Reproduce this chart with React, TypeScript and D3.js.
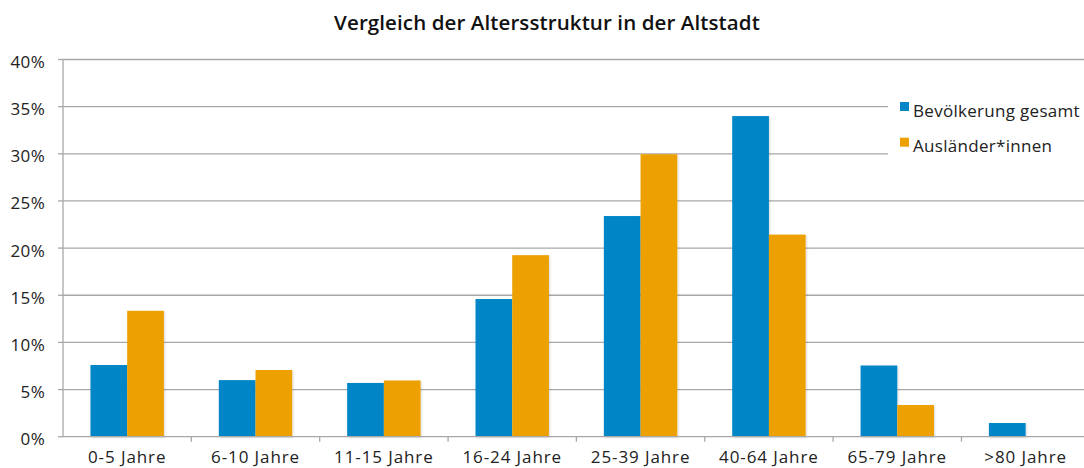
import React from "react";
import * as d3 from "d3";

const categories = ["0-5 Jahre", "6-10 Jahre", "11-15 Jahre", "16-24 Jahre", "25-39 Jahre", "40-64 Jahre", "65-79 Jahre", ">80 Jahre"];
const seriesNames = ["Bevölkerung gesamt", "Ausländer*innen"];
const gesamt = [7.6, 6.0, 5.7, 14.6, 23.4, 34.0, 7.55, 1.45];
const auslaender = [13.35, 7.07, 5.96, 19.25, 29.95, 21.43, 3.36, 0];
const yTicks = [0, 5, 10, 15, 20, 25, 30, 35, 40];
const colors = ["#0085C7", "#EDA100"];
const title = "Vergleich der Altersstruktur in der Altstadt";

const W = 1084;
const H = 468;
const font = "'Open Sans', sans-serif";

export default function App() {
  const left = 63;
  const bandW = 128.35;
  const right = left + bandW * categories.length;
  const top = 59.5;
  const bottom = 436.7;

  const x = d3.scaleBand<string>().domain(categories).range([left, right]).paddingInner(0).paddingOuter(0);
  const y = d3.scaleLinear().domain([0, 40]).range([bottom, top]);
  const barW = bandW * 0.286;
  const values = [gesamt, auslaender];

  return (
    <svg width={W} height={H} style={{ position: "absolute", left: 0, top: 0, background: "#fff" }} fontFamily={font}>
      <defs>
        <filter id="sh" x="-20%" y="-20%" width="140%" height="140%">
          <feDropShadow dx="1" dy="1" stdDeviation="1" floodColor="#000" floodOpacity="0.15" />
        </filter>
      </defs>
      <rect x={0} y={0} width={W} height={H} fill="#fff" />
      <text x={547} y={30} textAnchor="middle" fontSize={20.5} fontWeight={600} letterSpacing={0.1} fill="#111">{title}</text>
      {yTicks.map((t) => (
        <g key={t}>
          {t > 0 && <line x1={left} x2={W} y1={y(t)} y2={y(t)} stroke="#a8a8a8" strokeWidth={1.3} />}
          <line x1={left - 5} x2={left} y1={y(t)} y2={y(t)} stroke="#a8a8a8" strokeWidth={1.3} />
          <text x={45} y={y(t) + 8.5} textAnchor="end" fontSize={17} letterSpacing={0.3} fill="#222">{t}%</text>
        </g>
      ))}
      {categories.map((c, i) =>
        values.map((vals, s) => {
          const v = vals[i];
          if (!v) return null;
          const cx = (x(c) as number) + bandW / 2;
          const bx = cx - barW + s * barW;
          return (
            <rect key={c + s} x={bx} y={y(v)} width={barW} height={y(0) - y(v)} fill={colors[s]} filter="url(#sh)" />
          );
        })
      )}
      <line x1={left} x2={left} y1={top} y2={bottom} stroke="#a8a8a8" strokeWidth={1.3} />
      <line x1={left} x2={W} y1={bottom} y2={bottom} stroke="#a8a8a8" strokeWidth={1.3} />
      {categories.map((c, i) => (
        <line key={"t" + i} x1={(x(c) as number) + bandW} x2={(x(c) as number) + bandW} y1={bottom} y2={bottom + 5} stroke="#a8a8a8" strokeWidth={1.3} />
      ))}
      {categories.map((c) => (
        <text key={"l" + c} x={(x(c) as number) + bandW / 2} y={463} textAnchor="middle" fontSize={17} letterSpacing={0.9} fill="#222">{c}</text>
      ))}
      <rect x={888} y={92} width={200} height={66} fill="#fff" />
      {seriesNames.map((n, i) => (
        <g key={n}>
          <rect x={900} y={102 + i * 35.7} width={9} height={9} fill={colors[i]} />
          <text x={913} y={117 + i * 35} fontSize={17} letterSpacing={0.3} fill="#222">{n}</text>
        </g>
      ))}
    </svg>
  );
}
